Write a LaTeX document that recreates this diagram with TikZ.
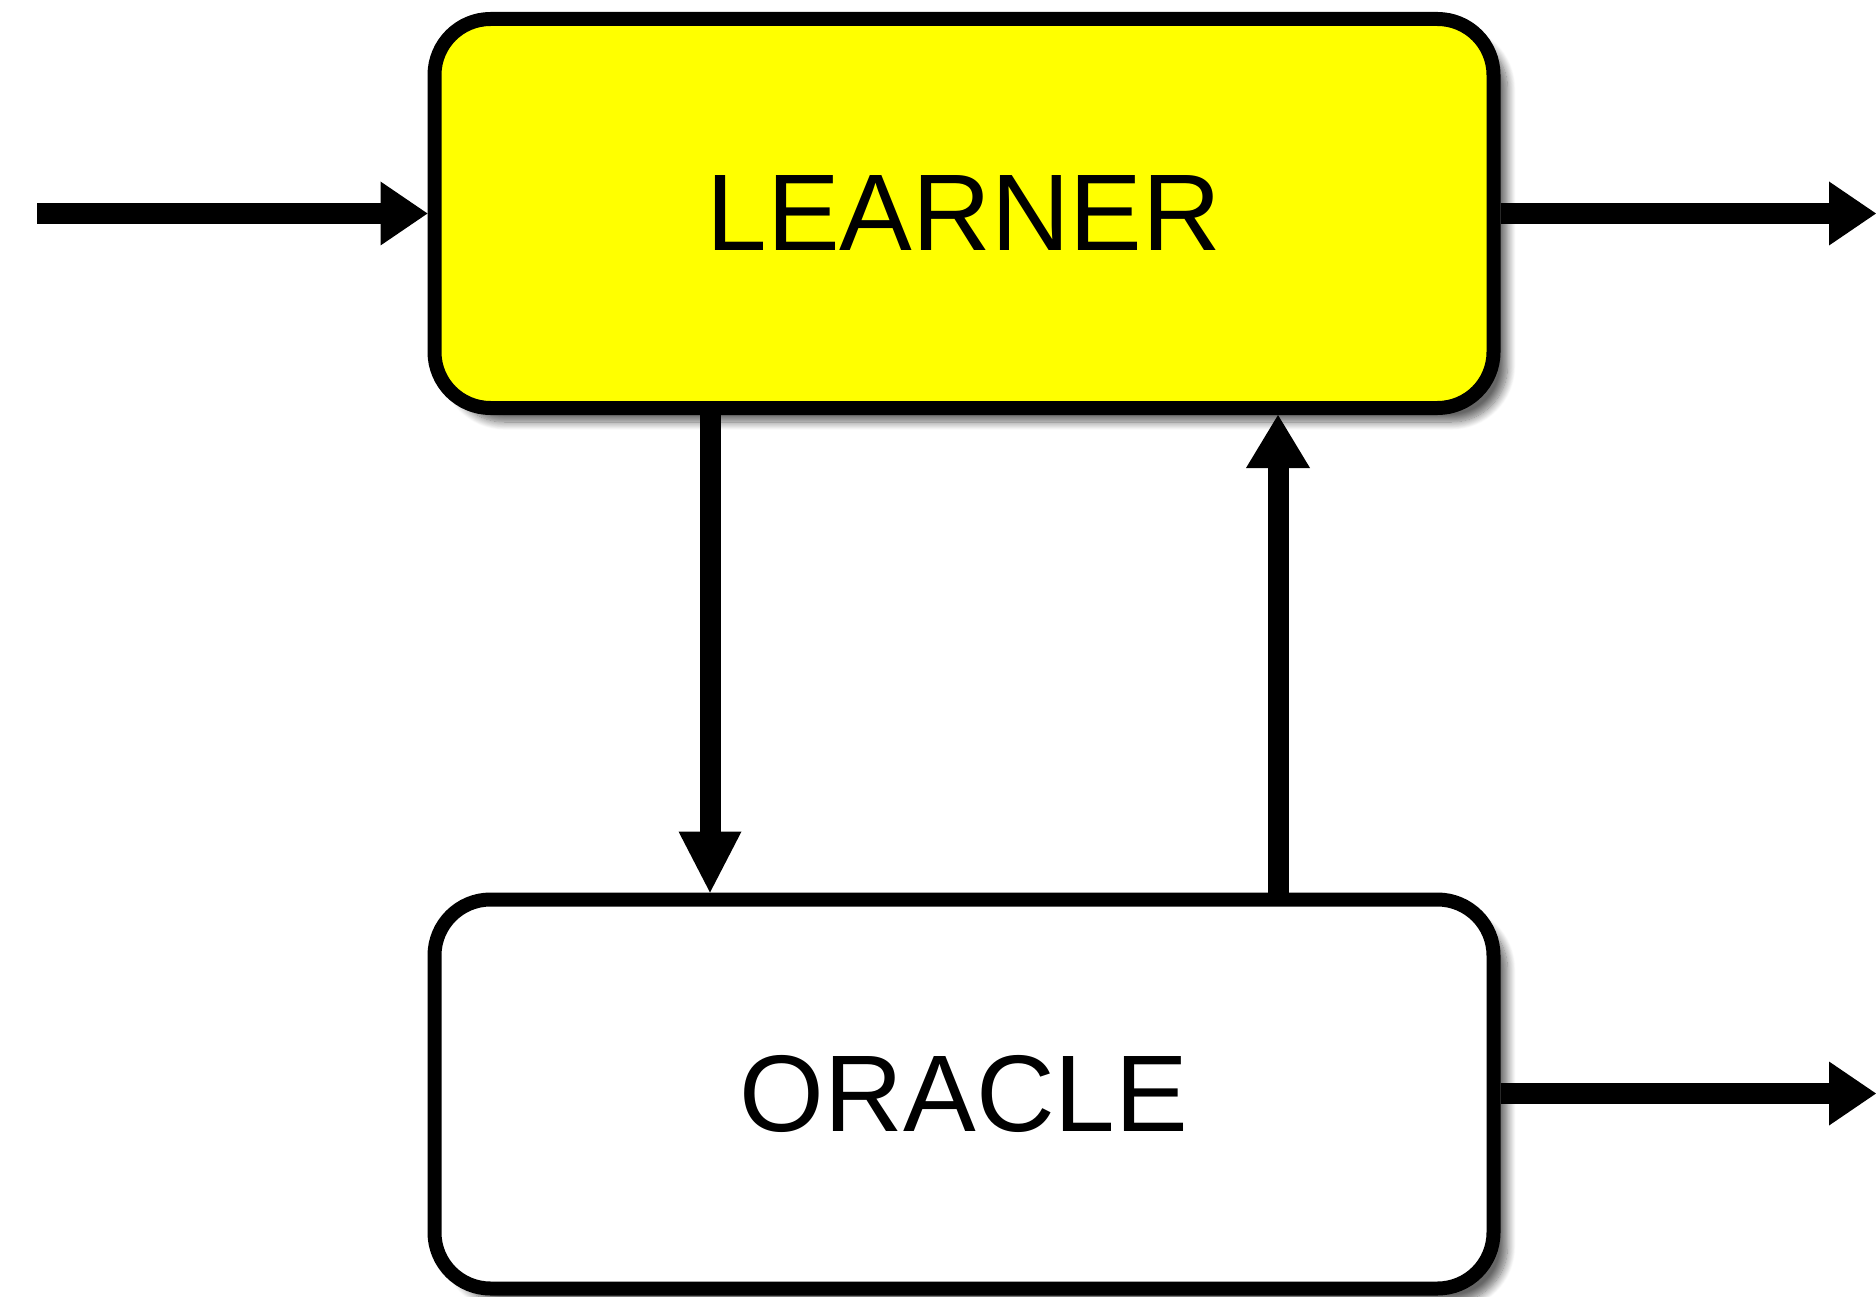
\documentclass[tikz,border=0pt]{standalone}
\usepackage{fontspec}
\setmainfont{Liberation Sans}
\usetikzlibrary{arrows.meta,shadows.blur}
\definecolor{learnerfill}{RGB}{255,255,0}
\begin{document}
\begin{tikzpicture}[x=1pt,y=-1pt,
  box/.style={draw=black, line width=14pt, rounded corners=56pt,
    minimum width=1059pt, minimum height=389pt, inner sep=0pt,
    font=\fontsize{109}{120}\selectfont,
    blur shadow={shadow xshift=14pt, shadow yshift=-14pt, shadow blur radius=8pt, shadow blur steps=12, shadow opacity=60}},
  flow/.style={draw=black, line width=21pt},
  hhead/.style={-{Triangle[length=47pt,width=64pt,line width=0pt]}},
  dhead/.style={-{Triangle[length=61pt,width=63pt,line width=0pt]}},
  uhead/.style={-{Triangle[length=53pt,width=64pt,line width=0pt]}}
]
\useasboundingbox (0,0) rectangle (1876,1297);
\node[box, fill=learnerfill] (L) at (964,213.5) {LEARNER};
\node[box, fill=white] (O) at (964,1094) {ORACLE};
\coordinate (inS) at (37,213.5);
\coordinate (outL) at (1876,213.5);
\coordinate (outO) at (1876,1093.5);
\coordinate (dnx) at (710,0);
\coordinate (upx) at (1278,0);
\draw[flow, hhead] (inS) -- (L.west);
\draw[flow, hhead] (L.east) -- (outL);
\draw[flow, hhead] (O.east |- outO) -- (outO);
\draw[flow, dhead] (dnx |- L.south) -- (dnx |- O.north);
\draw[flow, uhead] (upx |- O.north) -- (upx |- L.south);
\end{tikzpicture}
\end{document}
